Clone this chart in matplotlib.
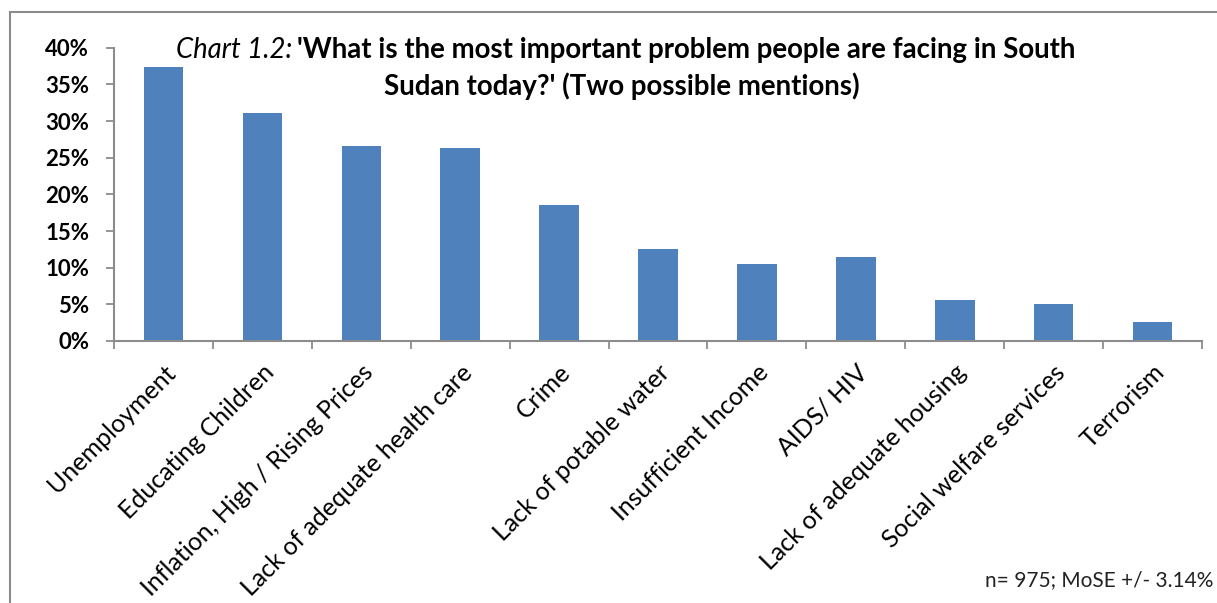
import numpy as np
import matplotlib.pyplot as plt
from matplotlib.patches import Rectangle

# Problems mentioned and share of respondents (%)
categories = ["Unemployment", "Educating Children", "Inflation, High / Rising Prices",
              "Lack of adequate health care", "Crime", "Lack of potable water",
              "Insufficient Income", "AIDS/ HIV", "Lack of adequate housing",
              "Social welfare services", "Terrorism"]
shares = [37.4, 31.1, 26.6, 26.3, 18.5, 12.5, 10.5, 11.4, 5.6, 5.1, 2.6]
yticks = [0, 5, 10, 15, 20, 25, 30, 35, 40]

plt.rcParams['font.family'] = ['Lato', 'DejaVu Sans']
fig = plt.figure(figsize=(12.17, 6.03), dpi=100)
ax = fig.add_axes([0.0937, 0.4345, 0.894, 0.4864])

x = np.arange(len(categories))
ax.bar(x, shares, width=0.4, color="#4F81BD")
ax.set_xlim(-0.5, len(categories) - 0.5)
ax.set_ylim(0, 40)

gray = "#8c8c8c"
for s in ["top", "right"]:
    ax.spines[s].set_visible(False)
for s in ["left", "bottom"]:
    ax.spines[s].set_color(gray)
    ax.spines[s].set_linewidth(1.5)

ax.set_yticks(yticks)
ax.set_yticklabels([f"{v}%" for v in yticks], fontsize=16, fontweight="bold")
ax.tick_params(axis="y", direction="out", length=6, width=1.3, color=gray, pad=12)

ax.set_xticks(x)
ax.set_xticklabels(categories, rotation=45, ha="right", rotation_mode="anchor", fontsize=18)
ax.set_xticks(np.arange(-0.5, len(categories), 1), minor=True)
ax.tick_params(axis="x", which="major", length=0, pad=14)
ax.tick_params(axis="x", which="minor", direction="out", length=6, width=1.3, color=gray)

# title: italic prefix, bold question
fig.text(292 / 1217, 1 - 50 / 603, "Chart 1.2:", fontsize=19.8, style="italic",
         ha="right", va="center")
fig.text(297 / 1217, 1 - 50 / 603,
         "'What is the most important problem people are facing in South",
         fontsize=19.9, fontweight="bold", ha="left", va="center")
fig.text(622 / 1217, 1 - 86 / 603, "Sudan today?' (Two possible mentions)",
         fontsize=19.9, fontweight="bold", ha="center", va="center")

fig.text(1213 / 1217, 1 - 580 / 603, "n= 975; MoSE +/- 3.14%", fontsize=15,
         ha="right", va="center", color="#222222")

# outer chart frame
fig.patches.append(Rectangle((10 / 1217, -0.2), 1.2, 1.2 + (1 - 12 / 603) - 1,
                             transform=fig.transFigure, fill=False,
                             edgecolor=gray, linewidth=1.5))

fig.savefig("out.png", dpi=100)
